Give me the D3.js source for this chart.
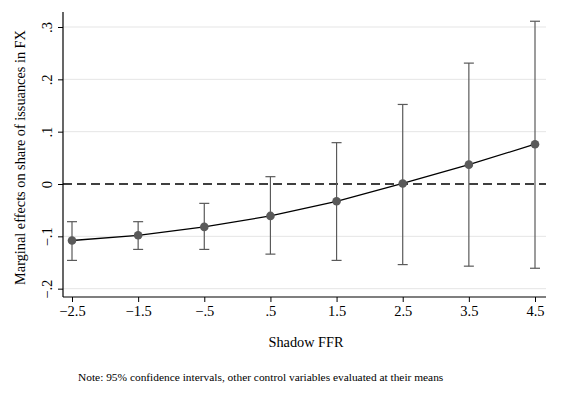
<!DOCTYPE html>
<html>
<head>
<meta charset="utf-8">
<script src="https://cdn.jsdelivr.net/npm/d3@7"></script>
<style>
  body { margin: 0; background: #fff; }
  text { font-family: "Liberation Serif", "Times New Roman", serif; fill: #000; }
</style>
</head>
<body>
<svg id="chart"></svg>
<script>
const WIDTH = 582;
const HEIGHT = 399;

// Data
const shadowFFR = [-2.5, -1.5, -0.5, 0.5, 1.5, 2.5, 3.5, 4.5];
const estimate  = [-0.108, -0.098, -0.082, -0.061, -0.033, 0.001, 0.037, 0.076];
const ciUpper   = [-0.072, -0.072, -0.037, 0.014, 0.079, 0.152, 0.231, 0.311];
const ciLower   = [-0.146, -0.125, -0.125, -0.134, -0.146, -0.154, -0.157, -0.161];
const xTickLabels = ["\u22122.5", "\u22121.5", "\u2212.5", ".5", "1.5", "2.5", "3.5", "4.5"];
const yTicks = [-0.2, -0.1, 0, 0.1, 0.2, 0.3];
const yTickLabels = ["\u2212.2", "\u2212.1", "0", ".1", ".2", ".3"];

const svg = d3.select('#chart').attr('width', WIDTH).attr('height', HEIGHT);

const plot = { left: 63, right: 546, top: 12, bottom: 297 };

const x = d3.scaleLinear().domain([-2.5, 4.5]).range([72, 535]);
const y = d3.scaleLinear().domain([0, 0.3]).range([184, 27]);

// gridlines
svg.append('g').selectAll('line')
  .data(yTicks.filter(d => d !== 0))
  .enter().append('line')
  .attr('x1', plot.left).attr('x2', plot.right)
  .attr('y1', d => y(d)).attr('y2', d => y(d))
  .style('stroke', '#e5e5e5').style('stroke-width', 1);

// zero reference line
svg.append('line')
  .attr('x1', plot.left).attr('x2', plot.right)
  .attr('y1', y(0)).attr('y2', y(0))
  .style('stroke', '#000').style('stroke-width', 1.3)
  .style('stroke-dasharray', '9,5');

// y axis
const yAxis = svg.append('g')
  .attr('transform', `translate(${plot.left},0)`)
  .call(d3.axisLeft(y).tickValues(yTicks).tickFormat((d, i) => yTickLabels[i]).tickSize(5).tickSizeOuter(0));
yAxis.select('.domain').attr('d', `M0,${plot.top}V${plot.bottom}`).style('stroke', '#000').style('stroke-width', 1.2);
yAxis.selectAll('.tick line').style('stroke', '#000');
yAxis.selectAll('.tick text')
  .attr('x', null).attr('dy', null)
  .attr('transform', 'translate(-11,0) rotate(-90)')
  .attr('text-anchor', 'middle')
  .style('font-size', '14.5px')
  .style('font-family', '"Liberation Serif", serif');

// x axis
const xAxis = svg.append('g')
  .attr('transform', `translate(0,${plot.bottom})`)
  .call(d3.axisBottom(x).tickValues(shadowFFR).tickFormat((d, i) => xTickLabels[i]).tickSize(5).tickSizeOuter(0));
xAxis.select('.domain').attr('d', `M${plot.left},0H${plot.right}`).style('stroke', '#000').style('stroke-width', 1.2);
xAxis.selectAll('.tick line').style('stroke', '#000');
xAxis.selectAll('.tick text')
  .attr('y', 9)
  .style('font-size', '14.5px')
  .style('font-family', '"Liberation Serif", serif');

// axis titles
svg.append('text')
  .attr('transform', `translate(25,${(plot.top + plot.bottom) / 2 + 3}) rotate(-90)`)
  .attr('text-anchor', 'middle')
  .style('font-size', '14.3px')
  .text('Marginal effects on share of issuances in FX');

svg.append('text')
  .attr('x', 306).attr('y', 347)
  .attr('text-anchor', 'middle')
  .style('font-size', '14.3px')
  .text('Shadow FFR');

svg.append('text')
  .attr('x', 78).attr('y', 381)
  .style('font-size', '11.4px')
  .text('Note: 95% confidence intervals, other control variables evaluated at their means');

// error bars
const pts = shadowFFR.map((d, i) => ({ x: d, est: estimate[i], lo: ciLower[i], hi: ciUpper[i] }));
const eb = svg.append('g').selectAll('g').data(pts).enter().append('g');
const barColor = '#5a5a5a';
eb.append('line')
  .attr('x1', d => x(d.x)).attr('x2', d => x(d.x))
  .attr('y1', d => y(d.hi)).attr('y2', d => y(d.lo))
  .style('stroke', barColor).style('stroke-width', 1.2);
eb.append('line')
  .attr('x1', d => x(d.x) - 5).attr('x2', d => x(d.x) + 5)
  .attr('y1', d => y(d.hi)).attr('y2', d => y(d.hi))
  .style('stroke', barColor).style('stroke-width', 1.2);
eb.append('line')
  .attr('x1', d => x(d.x) - 5).attr('x2', d => x(d.x) + 5)
  .attr('y1', d => y(d.lo)).attr('y2', d => y(d.lo))
  .style('stroke', barColor).style('stroke-width', 1.2);

// connecting line
svg.append('path')
  .datum(pts)
  .attr('d', d3.line().x(d => x(d.x)).y(d => y(d.est)))
  .style('fill', 'none').style('stroke', '#000').style('stroke-width', 1.3);

// points
svg.append('g').selectAll('circle').data(pts).enter().append('circle')
  .attr('cx', d => x(d.x)).attr('cy', d => y(d.est)).attr('r', 4.3)
  .style('fill', barColor);
</script>
</body>
</html>
